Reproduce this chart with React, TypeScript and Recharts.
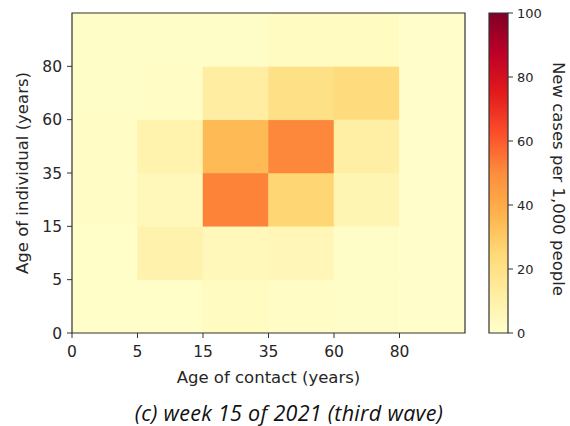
import { ScatterChart, Scatter, XAxis, YAxis, ReferenceArea } from "recharts";

// Age-group boundaries shared by both axes
const ageBins = ["0", "5", "15", "35", "60", "80"];

// New cases per 1,000 people, by age of contact (columns follow ageBins)
const individual0to5 = [1, 1, 3, 2, 1.5, 0.5];
const individual5to15 = [1, 9, 5, 6, 1.5, 0.5];
const individual15to35 = [2, 5, 52, 26, 7, 0.5];
const individual35to60 = [2, 8.5, 35, 51, 11, 0.5];
const individual60to80 = [1.5, 2, 12, 20, 23, 0.5];
const individual80plus = [1.5, 1.5, 1.5, 3, 3, 0.5];

const colorbarTicks = [0, 20, 40, 60, 80, 100];

const rows = [
  individual0to5,
  individual5to15,
  individual15to35,
  individual35to60,
  individual60to80,
  individual80plus,
];

// matplotlib YlOrRd control points
const YLORRD = [
  "#ffffcc", "#ffeda0", "#fed976", "#feb24c", "#fd8d3c",
  "#fc4e2a", "#e31a1c", "#bd0026", "#800026",
];

const hexToRgb = (hex: string) => [
  parseInt(hex.slice(1, 3), 16),
  parseInt(hex.slice(3, 5), 16),
  parseInt(hex.slice(5, 7), 16),
];

function colorFor(value: number) {
  const t = Math.max(0, Math.min(1, value / 100)) * (YLORRD.length - 1);
  const i = Math.min(Math.floor(t), YLORRD.length - 2);
  const f = t - i;
  const a = hexToRgb(YLORRD[i]);
  const b = hexToRgb(YLORRD[i + 1]);
  const mix = a.map((v, k) => Math.round(v + (b[k] - v) * f));
  return `rgb(${mix[0]},${mix[1]},${mix[2]})`;
}

const cells = rows.flatMap((row, r) =>
  row.map((value, c) => ({ x: c + 0.5, y: r + 0.5, col: c, row: r, value }))
);

const binTicks = ageBins.map((_, i) => i);
const tickStyle = { fontFamily: "DejaVu Sans", fontSize: 15.5, fill: "#262626" };
const labelStyle = { fontFamily: "DejaVu Sans", fontSize: 16.5, fill: "#262626" };

export default function App() {
  return (
    <div style={{ position: "absolute", left: 0, top: 0, width: 570, height: 426, background: "#fff" }}>
      <div style={{ position: "absolute", left: 0, top: 0 }}>
        <ScatterChart width={570} height={426} margin={{ top: 13, right: 105, bottom: 43, left: 0 }}>
          <XAxis
            type="number"
            dataKey="x"
            domain={[0, 6]}
            ticks={binTicks}
            tickFormatter={(i: number) => ageBins[i]}
            height={50}
            tickSize={5}
            tickMargin={8}
            axisLine={false}
            tickLine={{ stroke: "#333" }}
            tick={tickStyle}
            interval={0}
            label={{ value: "Age of contact (years)", position: "insideBottom", offset: 0, style: labelStyle }}
          />
          <YAxis
            type="number"
            dataKey="y"
            domain={[0, 6]}
            ticks={binTicks}
            tickFormatter={(i: number) => ageBins[i]}
            width={72}
            tickSize={5}
            tickMargin={5}
            axisLine={false}
            tickLine={{ stroke: "#333" }}
            tick={tickStyle}
            interval={0}
            label={{
              value: "Age of individual (years)",
              angle: -90,
              position: "insideLeft",
              offset: 22,
              style: { ...labelStyle, textAnchor: "middle" },
            }}
          />
          {cells.map((cell) => (
            <ReferenceArea
              key={`${cell.row}-${cell.col}`}
              x1={cell.col}
              x2={cell.col + 1}
              y1={cell.row}
              y2={cell.row + 1}
              fill={colorFor(cell.value)}
              fillOpacity={1}
              stroke={colorFor(cell.value)}
              strokeWidth={0.5}
            />
          ))}
          <ReferenceArea x1={0} x2={6} y1={0} y2={6} fill="none" stroke="#333" strokeWidth={1.2} />
          <Scatter data={cells} shape={() => <g />} isAnimationActive={false} />
        </ScatterChart>
      </div>

      {/* colorbar */}
      <div style={{ position: "absolute", left: 0, top: 0 }}>
        <ScatterChart width={570} height={426} margin={{ top: 13, right: 0, bottom: 93, left: 489 }}>
          <defs>
            <linearGradient id="ylorrd" x1="0" y1="1" x2="0" y2="0">
              {YLORRD.map((c, i) => (
                <stop key={c} offset={i / (YLORRD.length - 1)} stopColor={c} />
              ))}
            </linearGradient>
          </defs>
          <XAxis type="number" dataKey="x" domain={[0, 1]} hide />
          <YAxis
            type="number"
            dataKey="v"
            orientation="right"
            domain={[0, 100]}
            ticks={colorbarTicks}
            width={62}
            tickSize={5}
            tickMargin={4}
            axisLine={false}
            tickLine={{ stroke: "#333" }}
            tick={{ fontFamily: "DejaVu Sans", fontSize: 13, fill: "#262626" }}
            interval={0}
            label={{
              value: "New cases per 1,000 people",
              angle: 90,
              position: "insideLeft",
              offset: 51,
              dy: 6,
              style: { ...labelStyle, textAnchor: "middle" },
            }}
          />
          <ReferenceArea x1={0} x2={1} y1={0} y2={100} fill="url(#ylorrd)" fillOpacity={1} stroke="#333" strokeWidth={1.2} />
          <Scatter data={[{ x: 0.5, v: 50 }]} shape={() => <g />} isAnimationActive={false} />
        </ScatterChart>
      </div>

      <div
        style={{
          position: "absolute",
          left: 89,
          width: 400,
          top: 398,
          textAlign: "center",
          fontFamily: "Open Sans",
          fontStyle: "italic",
          fontSize: 21.5,
          letterSpacing: 0.3,
          color: "#111",
          whiteSpace: "nowrap",
        }}
      >
        (c) week 15 of 2021 (third wave)
      </div>
    </div>
  );
}
